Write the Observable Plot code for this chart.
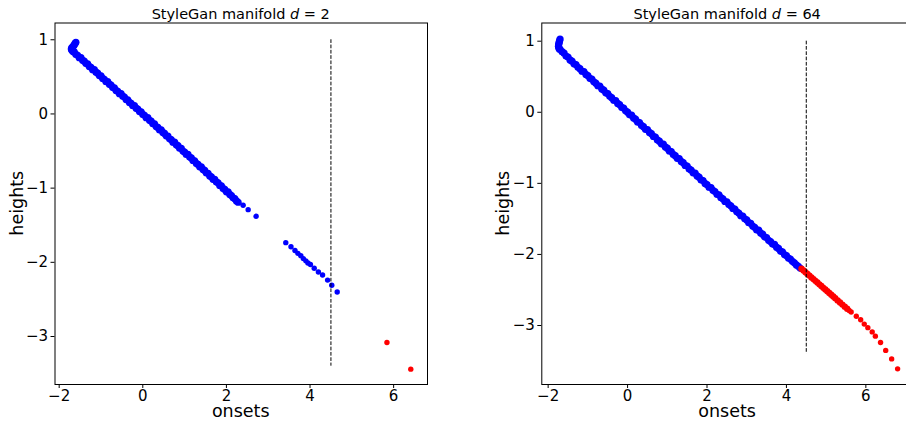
<!DOCTYPE html>
<html>
<head>
<meta charset="utf-8">
<script src="https://cdn.jsdelivr.net/npm/d3@7"></script>
<script src="https://cdn.jsdelivr.net/npm/@observablehq/plot@0.6"></script>
<style>
  html, body { margin: 0; padding: 0; background: #fff; overflow: hidden; }
  #wrap { position: relative; width: 906px; height: 423px; overflow: hidden; background: #fff; }
  #wrap svg { position: absolute; top: 0; font-family: "DejaVu Sans", sans-serif; color: #000; background: transparent; overflow: visible; }
</style>
</head>
<body>
<div id="wrap"></div>
<script>
// ---------- Panel titles / labels ----------
const titleLeft = ["StyleGan manifold ", "d", " = 2"];
const titleRight = ["StyleGan manifold ", "d", " = 64"];
const xLabel = "onsets";
const yLabel = "heights";
const xTicks = [-2, 0, 2, 4, 6];
const yTicks = [-3, -2, -1, 0, 1];

// threshold (dashed vertical line)
const thresholdX = 4.5;
const thresholdY1 = 1;
const thresholdY2 = -3.4;

// ---------- Left panel (d = 2) ----------
const leftHookX = [-1.60, -1.62, -1.64, -1.66, -1.68, -1.70, -1.71, -1.70, -1.68, -1.66];
const leftHookY = [0.965, 0.95, 0.93, 0.915, 0.90, 0.89, 0.875, 0.862, 0.85, 0.84];

const leftBandX = [
  -1.64, -1.60, -1.56, -1.52, -1.48, -1.44, -1.40, -1.36, -1.32, -1.28,
  -1.24, -1.20, -1.16, -1.12, -1.08, -1.04, -1.00, -0.96, -0.92, -0.88,
  -0.84, -0.80, -0.76, -0.72, -0.68, -0.64, -0.60, -0.56, -0.52, -0.48,
  -0.44, -0.40, -0.36, -0.32, -0.28, -0.24, -0.20, -0.16, -0.12, -0.08,
  -0.04, 0.00, 0.04, 0.08, 0.12, 0.16, 0.20, 0.24, 0.28, 0.32,
  0.36, 0.40, 0.44, 0.48, 0.52, 0.56, 0.60, 0.64, 0.68, 0.72,
  0.76, 0.80, 0.84, 0.88, 0.92, 0.96, 1.00, 1.04, 1.08, 1.12,
  1.16, 1.20, 1.24, 1.28, 1.32, 1.36, 1.40, 1.44, 1.48, 1.52,
  1.56, 1.60, 1.64, 1.68, 1.72, 1.76, 1.80, 1.84, 1.88, 1.92,
  1.96, 2.00, 2.04, 2.08, 2.12, 2.16, 2.20, 2.24, 2.28
];
const leftBandY = [
  0.836, 0.802, 0.790, 0.758, 0.758, 0.724, 0.712, 0.679, 0.675, 0.640,
  0.628, 0.596, 0.597, 0.563, 0.550, 0.517, 0.513, 0.479, 0.467, 0.434,
  0.435, 0.401, 0.389, 0.356, 0.351, 0.317, 0.305, 0.273, 0.274, 0.239,
  0.227, 0.194, 0.190, 0.156, 0.143, 0.111, 0.112, 0.078, 0.066, 0.032,
  0.028, -0.006, -0.018, -0.051, -0.050, -0.085, -0.097, -0.131, -0.135, -0.170,
  -0.182, -0.215, -0.214, -0.249, -0.262, -0.295, -0.300, -0.334, -0.347, -0.380,
  -0.380, -0.414, -0.427, -0.461, -0.465, -0.500, -0.513, -0.546, -0.546, -0.581,
  -0.593, -0.627, -0.632, -0.667, -0.680, -0.713, -0.713, -0.748, -0.761, -0.795,
  -0.800, -0.835, -0.848, -0.881, -0.881, -0.916, -0.929, -0.963, -0.968, -1.004,
  -1.017, -1.050, -1.050, -1.085, -1.099, -1.131, -1.142, -1.172, -1.190
];

const leftSparseX = [2.40, 2.52, 2.71, 3.42, 3.545, 3.64, 3.71, 3.78, 3.84, 3.90, 3.95, 4.01, 4.10, 4.20, 4.30, 4.42, 4.52, 4.65];
const leftSparseY = [-1.23, -1.29, -1.38, -1.735, -1.79, -1.84, -1.88, -1.91, -1.95, -1.98, -2.01, -2.03, -2.08, -2.13, -2.17, -2.24, -2.31, -2.40];

const leftRedX = [5.84, 6.41];
const leftRedY = [-3.08, -3.44];

// ---------- Right panel (d = 64) ----------
const rightHookX = [-1.70, -1.71, -1.72, -1.73, -1.735, -1.74, -1.735, -1.72];
const rightHookY = [1.03, 1.01, 0.99, 0.97, 0.95, 0.93, 0.91, 0.89];

const rightBandX = [
  -1.70, -1.65, -1.60, -1.55, -1.50, -1.45, -1.40, -1.35, -1.30, -1.25,
  -1.20, -1.15, -1.10, -1.05, -1.00, -0.95, -0.90, -0.85, -0.80, -0.75,
  -0.70, -0.65, -0.60, -0.55, -0.50, -0.45, -0.40, -0.35, -0.30, -0.25,
  -0.20, -0.15, -0.10, -0.05, 0.00, 0.05, 0.10, 0.15, 0.20, 0.25,
  0.30, 0.35, 0.40, 0.45, 0.50, 0.55, 0.60, 0.65, 0.70, 0.75,
  0.80, 0.85, 0.90, 0.95, 1.00, 1.05, 1.10, 1.15, 1.20, 1.25,
  1.30, 1.35, 1.40, 1.45, 1.50, 1.55, 1.60, 1.65, 1.70, 1.75,
  1.80, 1.85, 1.90, 1.95, 2.00, 2.05, 2.10, 2.15, 2.20, 2.25,
  2.30, 2.35, 2.40, 2.45, 2.50, 2.55, 2.60, 2.65, 2.70, 2.75,
  2.80, 2.85, 2.90, 2.95, 3.00, 3.05, 3.10, 3.15, 3.20, 3.25,
  3.30, 3.35, 3.40, 3.45, 3.50, 3.55, 3.60, 3.65, 3.70, 3.75,
  3.80, 3.85, 3.90, 3.95, 4.00, 4.05, 4.10, 4.15, 4.20, 4.25,
  4.30, 4.35
];
const rightBandY = [
  0.885, 0.852, 0.832, 0.790, 0.776, 0.737, 0.719, 0.681, 0.671, 0.632,
  0.614, 0.577, 0.572, 0.533, 0.515, 0.477, 0.467, 0.428, 0.410, 0.373,
  0.368, 0.329, 0.311, 0.273, 0.263, 0.224, 0.206, 0.169, 0.164, 0.125,
  0.107, 0.069, 0.059, 0.020, 0.002, -0.036, -0.040, -0.080, -0.097, -0.136,
  -0.145, -0.185, -0.202, -0.240, -0.244, -0.284, -0.301, -0.340, -0.349, -0.389,
  -0.406, -0.444, -0.448, -0.488, -0.505, -0.544, -0.553, -0.593, -0.610, -0.648,
  -0.652, -0.692, -0.709, -0.748, -0.757, -0.797, -0.814, -0.852, -0.856, -0.896,
  -0.913, -0.952, -0.961, -1.001, -1.018, -1.055, -1.059, -1.098, -1.115, -1.153,
  -1.162, -1.201, -1.218, -1.255, -1.259, -1.298, -1.315, -1.353, -1.362, -1.401,
  -1.418, -1.455, -1.459, -1.498, -1.515, -1.553, -1.562, -1.601, -1.618, -1.655,
  -1.659, -1.698, -1.715, -1.753, -1.762, -1.801, -1.818, -1.855, -1.859, -1.898,
  -1.915, -1.953, -1.962, -2.001, -2.018, -2.050, -2.066, -2.097, -2.118, -2.147,
  -2.168, -2.196
];

const rightRedBandX = [
  4.38, 4.43, 4.48, 4.53, 4.58, 4.63, 4.68, 4.73, 4.78, 4.83,
  4.88, 4.93, 4.98, 5.03, 5.08, 5.13, 5.18, 5.23, 5.29, 5.35,
  5.41, 5.47, 5.53
];
const rightRedBandY = [
  -2.200, -2.225, -2.249, -2.274, -2.298, -2.323, -2.347, -2.372, -2.396, -2.421,
  -2.445, -2.470, -2.494, -2.519, -2.543, -2.568, -2.592, -2.617, -2.647, -2.676,
  -2.706, -2.735, -2.765
];
const rightRedSparseX = [5.58, 5.63, 5.76, 5.87, 5.96, 6.05, 6.16, 6.24, 6.37, 6.50, 6.65, 6.80];
const rightRedSparseY = [-2.789, -2.810, -2.87, -2.92, -2.98, -3.03, -3.09, -3.15, -3.24, -3.35, -3.47, -3.61];

// ---------- helpers ----------
const pts = (xs, ys) => xs.map((x, i) => ({x, y: ys[i]}));
const fmt = d3.format("d");

function panel(opts) {
  const {left, width, mL, mR, mT, mB, xDomain, yDomain, blueBand, blueSparse, redBand, redSparse, title} = opts;
  const svg = Plot.plot({
    width, height: 423,
    marginLeft: mL, marginRight: mR, marginTop: mT, marginBottom: mB,
    style: {fontFamily: "DejaVu Sans, sans-serif", color: "#000", background: "transparent"},
    x: {domain: xDomain},
    y: {domain: yDomain},
    marks: [
      Plot.dot(blueBand, {x: "x", y: "y", r: 3.6, fill: "#0000ff", stroke: "none"}),
      Plot.dot(blueSparse, {x: "x", y: "y", r: 2.7, fill: "#0000ff", stroke: "none"}),
      Plot.dot(redBand, {x: "x", y: "y", r: 3.2, fill: "#ff0000", stroke: "none"}),
      Plot.dot(redSparse, {x: "x", y: "y", r: 2.7, fill: "#ff0000", stroke: "none"}),
      Plot.ruleX([thresholdX], {y1: thresholdY1, y2: thresholdY2, stroke: "#000", strokeWidth: 1, strokeDasharray: "3.7,1.6"}),
      Plot.frame({stroke: "#000", strokeWidth: 1}),
      Plot.axisX({ticks: xTicks, tickFormat: fmt, tickSize: 4, tickPadding: 1.5, fontSize: 15, label: null}),
      Plot.axisY({ticks: yTicks, tickFormat: fmt, tickSize: 4, tickPadding: 3, fontSize: 15, label: null})
    ]
  });
  svg.style.left = left + "px";
  const s = d3.select(svg);
  const cx = mL + (width - mL - mR) / 2;
  const cy = mT + (423 - mT - mB) / 2;
  const t = s.append("text")
    .attr("x", cx).attr("y", 18.5)
    .attr("text-anchor", "middle")
    .attr("font-size", 14.5)
    .attr("fill", "#000");
  t.append("tspan").text(title[0]);
  t.append("tspan").attr("font-style", "italic").text(title[1]);
  t.append("tspan").text(title[2]);
  s.append("text")
    .attr("x", cx).attr("y", 417)
    .attr("text-anchor", "middle")
    .attr("font-size", 17.5)
    .attr("fill", "#000")
    .text(xLabel);
  s.append("text")
    .attr("transform", `translate(${mL - 32},${cy}) rotate(-90)`)
    .attr("text-anchor", "middle")
    .attr("font-size", 17.5)
    .attr("fill", "#000")
    .text(yLabel);
  return svg;
}

const wrap = document.getElementById("wrap");
wrap.appendChild(panel({
  left: 0, width: 453, mL: 54.5, mR: 26, mT: 22.5, mB: 39,
  xDomain: [-2.1, 6.81], yDomain: [-3.647, 1.226],
  blueBand: [...pts(leftHookX, leftHookY), ...pts(leftBandX, leftBandY)],
  blueSparse: pts(leftSparseX, leftSparseY),
  redBand: [],
  redSparse: pts(leftRedX, leftRedY),
  title: titleLeft
}));
wrap.appendChild(panel({
  left: 453, width: 460, mL: 88.3, mR: 0, mT: 22.5, mB: 39,
  xDomain: [-2.16, 7.20], yDomain: [-3.83, 1.256],
  blueBand: [...pts(rightHookX, rightHookY), ...pts(rightBandX, rightBandY)],
  blueSparse: [],
  redBand: pts(rightRedBandX, rightRedBandY),
  redSparse: pts(rightRedSparseX, rightRedSparseY),
  title: titleRight
}));
</script>
</body>
</html>
